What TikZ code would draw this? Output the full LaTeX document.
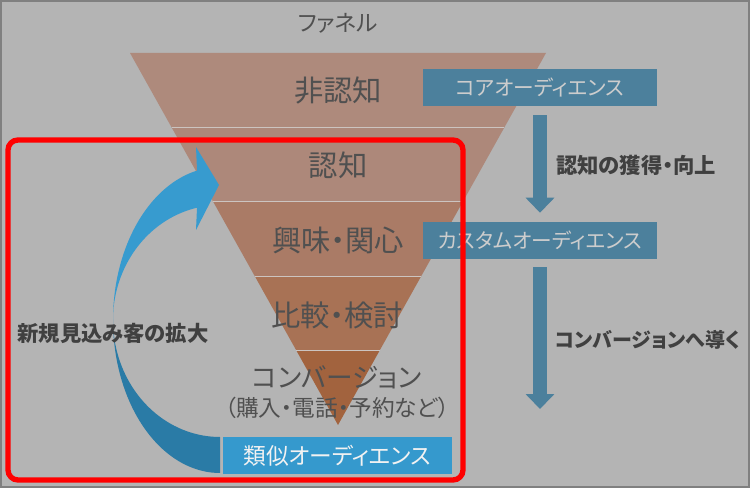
\documentclass[tikz,border=0pt]{standalone}
\usepackage{fontspec}
\setmainfont{Noto Sans CJK JP}[RawFeature=+palt]
\usetikzlibrary{arrows.meta,calc}
\definecolor{bggray}{HTML}{B4B4B4}
\definecolor{framegray}{HTML}{808080}
\definecolor{layerA}{HTML}{AE8A7C}
\definecolor{layerB}{HTML}{AD887A}
\definecolor{layerC}{HTML}{AA7B66}
\definecolor{layerD}{HTML}{A87255}
\definecolor{layerE}{HTML}{A2633E}
\definecolor{sepgray}{HTML}{CCC4C0}
\definecolor{inkgray}{HTML}{505050}
\definecolor{boldgray}{HTML}{404040}
\definecolor{audblue}{HTML}{4C809C}
\definecolor{audtext}{HTML}{CDCDCD}
\definecolor{simblue}{HTML}{3599CD}
\definecolor{simtext}{HTML}{F2F2F2}
\definecolor{arrowlight}{HTML}{379BCF}
\definecolor{arrowdark}{HTML}{2A7BA6}
\definecolor{alertred}{HTML}{FF0000}
\tikzset{
  layertext/.style={
    text=inkgray,
    inner sep=0pt,
    font=\fontsize{22}{26}\selectfont
  },
  subtext/.style={
    layertext,
    font=\fontsize{17}{20}\selectfont
  },
  audbox/.style={
    fill=audblue,
    text=audtext,
    inner sep=0pt,
    minimum width=175.5pt,
    minimum height=27.75pt,
    font=\fontsize{15.5}{19}\selectfont
  },
  simbox/.style={
    audbox,
    fill=simblue,
    text=simtext,
    minimum width=171.75pt,
    font=\fontsize{17}{20}\selectfont
  },
  steplabel/.style={
    text=boldgray,
    inner sep=0pt,
    anchor=west,
    font=\bfseries\fontsize{15}{18}\selectfont
  },
  fatarrow/.style={
    -{Triangle[length=11.25pt,width=21pt]},
    draw=audblue,
    line width=10.5pt
  },
  sepline/.style={
    draw=sepgray,
    line width=0.75pt
  },
  alertframe/.style={
    draw=alertred,
    line width=4pt,
    rounded corners=7.5pt
  }
}

\begin{document}
\begin{tikzpicture}[x=0.75pt,y=-0.75pt]
  \useasboundingbox (0,0) rectangle (750,488);
  \fill[bggray] (0,0) rectangle (750,488);
  \draw[framegray, line width=1.5pt] (1,1) rectangle (749,487);

  \node[layertext, font=\fontsize{17}{20}\selectfont] (title) at (338,23) {ファネル};

  % funnel
  \coordinate (ftl) at (130,53);
  \coordinate (ftr) at (546,53);
  \coordinate (fapex) at (338,425);
  \fill[layerA] (ftl) -- (ftr) -- ($(fapex)!0.8!(ftr)$) -- ($(fapex)!0.8!(ftl)$) -- cycle;
  \fill[layerB] ($(fapex)!0.8!(ftl)$) -- ($(fapex)!0.8!(ftr)$) -- ($(fapex)!0.6!(ftr)$) -- ($(fapex)!0.6!(ftl)$) -- cycle;
  \fill[layerC] ($(fapex)!0.6!(ftl)$) -- ($(fapex)!0.6!(ftr)$) -- ($(fapex)!0.4!(ftr)$) -- ($(fapex)!0.4!(ftl)$) -- cycle;
  \fill[layerD] ($(fapex)!0.4!(ftl)$) -- ($(fapex)!0.4!(ftr)$) -- ($(fapex)!0.2!(ftr)$) -- ($(fapex)!0.2!(ftl)$) -- cycle;
  \fill[layerE] ($(fapex)!0.2!(ftl)$) -- ($(fapex)!0.2!(ftr)$) -- (fapex) -- cycle;
  \draw[sepline] ($(fapex)!0.8!(ftl)$) -- ($(fapex)!0.8!(ftr)$);
  \draw[sepline] ($(fapex)!0.6!(ftl)$) -- ($(fapex)!0.6!(ftr)$);
  \draw[sepline] ($(fapex)!0.4!(ftl)$) -- ($(fapex)!0.4!(ftr)$);
  \draw[sepline] ($(fapex)!0.2!(ftl)$) -- ($(fapex)!0.2!(ftr)$);

  \node[layertext] (unaware) at (338,91) {非認知};
  \node[layertext] (aware) at (338,165) {認知};
  \node[layertext] (interest) at (338,240) {興味・関心};
  \node[layertext] (compare) at (337,315) {比較・検討};
  \node[layertext, font=\fontsize{20}{24}\selectfont] (conv) at (337,377) {コンバージョン};
  \node[subtext] (convsub) at (337,408) {（購入・電話・予約など）};

  % audiences on the right
  \node[audbox] (core) at (540,87.5) {コアオーディエンス};
  \node[audbox] (custom) at (540,240.5) {カスタムオーディエンス};
  \coordinate (convgoal) at (540,409);
  \draw[fatarrow] ([yshift=-6.75pt]core.south) -- ([yshift=6.75pt]custom.north);
  \draw[fatarrow] ([yshift=-6pt]custom.south) -- (convgoal);
  \node[steplabel, font=\bfseries\fontsize{16}{19}\selectfont] (gainlabel) at (556,165) {認知の獲得・向上};
  \node[steplabel] (convlabel) at (555,340) {コンバージョンへ導く};

  % curved arrow back up to awareness
  \fill[arrowdark] plot[domain=0:90, samples=40] ({220-107*cos(\x)},{320+153*sin(\x)})
    -- plot[domain=90:0, samples=40] ({220-107*cos(\x)},{320+117*sin(\x)}) -- cycle;
  \fill[arrowlight] plot[domain=0:77.6, samples=40] ({220-107*cos(\x)},{320-153*sin(\x)})
    -- (196,147) -- (219,185) -- (196,230)
    -- plot[domain=77.6:0, samples=40] ({220-107*cos(\x)},{320-115*sin(\x)}) -- cycle;
  \node[steplabel, font=\bfseries\fontsize{16}{19}\selectfont, anchor=center] (expandlabel) at (113,333)
    {新規見込み客の拡大};

  \node[simbox] (similar) at (337.5,455.5) {類似オーディエンス};

  \draw[alertframe] (8,140) rectangle (463,480);
\end{tikzpicture}
\end{document}
